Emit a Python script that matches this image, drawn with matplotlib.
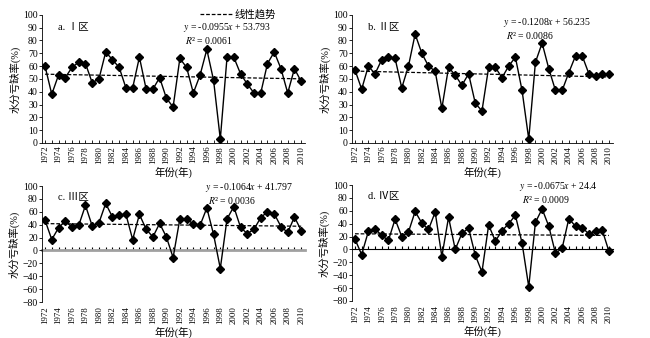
import numpy as np
import matplotlib
matplotlib.use('Agg')
import matplotlib.pyplot as plt

plt.rcParams['font.family'] = ['Liberation Serif', 'Noto Sans CJK SC']
plt.rcParams['mathtext.fontset'] = 'stix'

years = np.arange(1972, 2011)

zone_a = [60, 38, 53, 51, 59, 63, 62, 47, 50, 71, 65, 59, 43, 43, 67, 42, 42, 51, 35, 28,
          66, 59, 39, 53, 73, 49, 3, 67, 67, 54, 46, 39, 39, 62, 71, 58, 39, 58, 48]
zone_b = [57, 42, 60, 54, 65, 67, 66, 43, 60, 85, 70, 60, 56, 27, 59, 53, 45, 54, 31, 25,
          59, 59, 51, 60, 67, 41, 3, 63, 78, 58, 41, 41, 55, 68, 68, 54, 52.5, 53.5, 53.5]
zone_c = [47, 17, 35, 46, 36, 39, 70, 38, 43, 73, 52, 55, 56, 17, 56, 33, 21, 42, 21, -11,
          49, 49, 41, 39, 66, 25, -28, 49, 68, 36, 26, 33, 51, 60, 57, 37, 28, 52, 31]
zone_d = [16, -8, 28, 32, 22, 14, 47, 20, 27, 59, 41, 31, 58, -11, 50, 0, 25, 33, -9, -35,
          38, 13, 29, 40, 53, 10, -58, 42, 63, 36, -6, 2, 48, 36, 34, 24, 28, 30, -3]

titles = ['a. Ⅰ区', 'b. Ⅱ区', 'c. Ⅲ区', 'd. Ⅳ区']
slopes = [-0.0955, -0.1208, -0.1064, -0.0675]
intercepts = [53.793, 56.235, 41.797, 24.4]
eq_text = ['$y$ = -0.0955$x$ + 53.793', '$y$ = -0.1208$x$ + 56.235',
           '$y$ = -0.1064$x$ + 41.797', '$y$ = -0.0675$x$ + 24.4']
r2_text = ['$R$² = 0.0061', '$R$² = 0.0086', '$R$² = 0.0036', '$R$² = 0.0009']

series = [zone_a, zone_b, zone_c, zone_d]
boxes = [[0.0646, 0.577, 0.405, 0.379],
         [0.5415, 0.577, 0.4015, 0.379],
         [0.0646, 0.1065, 0.405, 0.343],
         [0.5415, 0.1095, 0.4015, 0.343]]
eq_pos = [(0.535, 0.90, 0.80), (0.58, 0.94, 0.84), (0.62, 0.99, 0.875), (0.64, 0.99, 0.875)]

fig = plt.figure(figsize=(6.5, 3.38), dpi=100)

for i in range(4):
    ax = fig.add_axes(boxes[i])
    vals = np.array(series[i])
    idx = np.arange(1, len(years) + 1)
    trend = slopes[i] * idx + intercepts[i]
    ax.plot(years, vals, color='black', lw=1.0, marker='D', ms=3.8, zorder=3)
    ax.plot(years, trend, color='black', lw=0.9, ls=(0, (3, 1.5)), zorder=2)
    ax.set_xlim(1971.55, 2010.6)
    ax.set_xticks(years[::2])
    ax.set_xticklabels([str(y) for y in years[::2]], rotation=90, fontsize=6.3)
    ax.tick_params(axis='y', labelsize=7, length=2, width=0.6, pad=1)
    for s in ['top', 'right']:
        ax.spines[s].set_visible(False)
    ax.spines['left'].set_linewidth(0.6)
    if i < 2:
        ax.set_ylim(0, 100)
        ax.set_yticks(np.arange(0, 101, 10))
        ax.spines['bottom'].set_linewidth(0.6)
        ax.set_xticks(years, minor=True)
        ax.tick_params(axis='x', which='both', direction='in', length=2, width=0.6, pad=2)
    else:
        ax.set_ylim(-80, 100)
        ax.set_yticks(np.arange(-80, 101, 20))
        ax.spines['bottom'].set_visible(False)
        ax.tick_params(axis='x', which='both', length=0, pad=3)
        zero_ax = ax.secondary_xaxis(0, transform=ax.transData)
        zero_ax.set_xticks(years)
        zero_ax.tick_params(axis='x', direction='in', length=2, width=0.8, labelbottom=False)
        if i == 2:
            zero_ax.spines['bottom'].set_color('#a0a0a0')
            zero_ax.spines['bottom'].set_linewidth(2)
        else:
            zero_ax.spines['bottom'].set_linewidth(0.8)
    ax.set_ylabel('水分亏缺率(%)', fontsize=7.5, labelpad=2)
    ax.set_xlabel('年份(年)', fontsize=7.5, labelpad=2)
    ax.text(0.06, 0.9, titles[i], transform=ax.transAxes, fontsize=7.5, va='center')
    ex, ey, ry = eq_pos[i]
    ax.text(ex, ey, eq_text[i], transform=ax.transAxes, fontsize=7, va='center')
    ax.text(ex + 0.01, ry, r2_text[i], transform=ax.transAxes, fontsize=7, va='center')
    if i == 0:
        ax.plot([], [], color='black', lw=0.9, ls=(0, (3, 1.5)), label='线性趋势')
        ax.legend(loc='center right', bbox_to_anchor=(0.89, 1.0), frameon=False,
                  fontsize=7.5, handlelength=3, handletextpad=0.3, borderaxespad=0,
                  borderpad=0)

fig.savefig('out.png', dpi=100)
